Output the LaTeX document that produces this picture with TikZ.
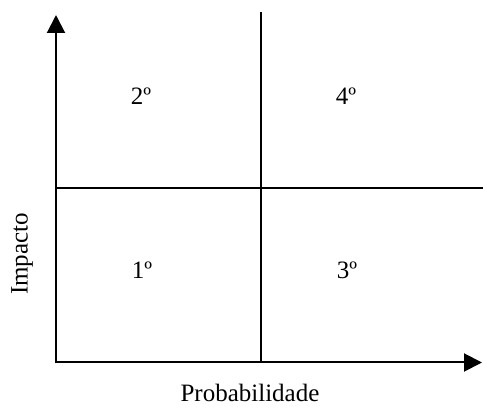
\documentclass[tikz,border=0pt]{standalone}
\usepackage{fontspec}
\setmainfont{Liberation Serif}
\usetikzlibrary{arrows.meta}
\begin{document}
\begin{tikzpicture}[x=1pt,y=1pt,
  axisline/.style={line width=2pt,-{Triangle[length=18pt,width=18pt]}},
  gridline/.style={line width=2pt},
  lbl/.style={font=\fontsize{25}{30}\selectfont,inner sep=0pt}]
\useasboundingbox (0,0) rectangle (483,410);
\coordinate (O) at (56,47.5);
\coordinate (ytop) at (56,395);
\coordinate (xend) at (482,47.5);
\coordinate (vtop) at (260.7,398);
\coordinate (vbot) at (260.7,47.5);
\coordinate (hl) at (55,222);
\coordinate (hr) at (483,222);
\draw[gridline] (vbot) -- (vtop);
\draw[gridline] (hl) -- (hr);
\draw[axisline] ([yshift=-1pt]O) -- (ytop);
\draw[axisline] ([xshift=-1pt]O) -- (xend);
\node[lbl] (q2) at (141,314) {2º};
\node[lbl] (q4) at (346,314) {4º};
\node[lbl] (q1) at (142,140) {1º};
\node[lbl] (q3) at (347,140) {3º};
\node[lbl,rotate=90] (imp) at (22,156) {Impacto};
\node[lbl] (prob) at (250,17) {Probabilidade};
\end{tikzpicture}
\end{document}
